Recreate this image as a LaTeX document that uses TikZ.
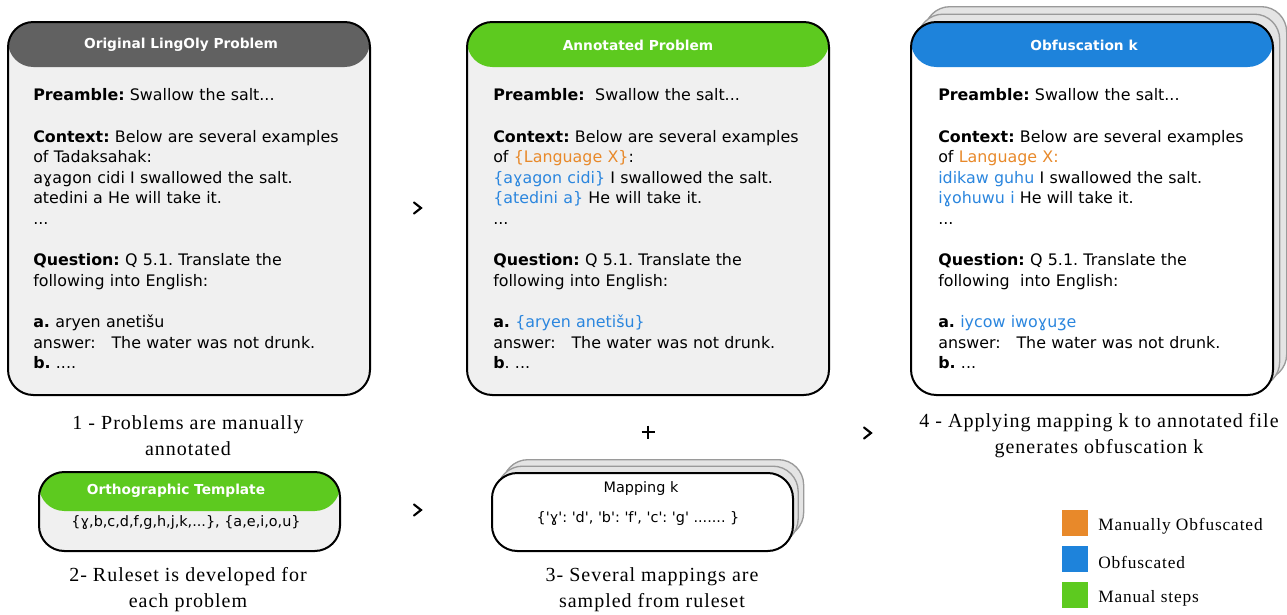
\documentclass[tikz,border=0pt]{standalone}
\usepackage{fontspec}
\setmainfont{Liberation Serif}[LetterSpace=5]
\setsansfont{DejaVu Sans}
\frenchspacing
\definecolor{hgray}{HTML}{616161}
\definecolor{hgreen}{HTML}{5DCA1F}
\definecolor{hblue}{HTML}{1E83DB}
\definecolor{bodygray}{HTML}{F0F0F0}
\definecolor{torange}{HTML}{E8892A}
\definecolor{tblue}{HTML}{2B86DE}
\definecolor{shadowfill}{HTML}{E4E4E4}
\definecolor{shadowdraw}{HTML}{9A9A9A}
\newcommand{\sq}{\textquotesingle}
\begin{document}
\begin{tikzpicture}[x=0.75pt,y=-0.75pt,
  card/.style n args={4}{rectangle, rounded corners=19pt, draw=black, line width=1.5pt,
    fill=#2, minimum width=#3*0.75pt, minimum height=#4*0.75pt, inner sep=0pt, anchor=north west,
    path picture={\fill[#1] (path picture bounding box.north west) rectangle ([yshift=-33.75pt]path picture bounding box.north east);}},
  smallcard/.style n args={2}{rectangle, rounded corners=19pt, draw=black, line width=1.5pt,
    fill=#2, minimum width=225.75pt, minimum height=59.25pt, inner sep=0pt, anchor=north west,
    path picture={\fill[#1] (path picture bounding box.north west) rectangle ([yshift=-29.25pt]path picture bounding box.north east);}},
  shadowcard/.style n args={2}{rectangle, rounded corners=19pt, draw=shadowdraw, line width=1pt,
    fill=shadowfill, minimum width=#1*0.75pt, minimum height=#2*0.75pt, inner sep=0pt, anchor=north west},
  headtext/.style={text=white, font=\sffamily\bfseries\fontsize{10.3}{13}\selectfont, inner sep=0pt},
  bodytext/.style={anchor=north west, align=left, inner sep=0pt, text width=262pt,
    font=\sffamily\fontsize{11.9}{15.45}\selectfont},
  midtext/.style={inner sep=0pt, font=\sffamily\fontsize{10.8}{13}\selectfont},
  caption/.style={align=center, inner sep=0pt, font=\rmfamily\fontsize{15}{19.5}\selectfont},
  legbox/.style={minimum size=19.5pt, inner sep=0pt},
  legtext/.style={anchor=west, inner sep=0pt, font=\rmfamily\fontsize{13}{14}\selectfont},
  chev/.style={line width=1.6pt, line cap=round, line join=miter}
]
\useasboundingbox (0,0) rectangle (1287,614);

% ---- Box 1
\node[card={hgray}{bodygray}{362}{373}] (box1) at (7,21) {};
\node[headtext] (h1) at (181,45) {Original LingOly Problem};
\node[bodytext] (b1) at (33,88.5) {\textbf{Preamble:} Swallow the salt...\\\mbox{}\\
\textbf{Context:} Below are several examples\\of Tadaksahak:\\aɣagon cidi I swallowed the salt.\\atedini a He will take it.\\...\\\mbox{}\\
\textbf{Question:} Q 5.1. Translate the\\following into English:\\\mbox{}\\
\textbf{a.} aryen anetišu\\answer:\ \ \ The water was not drunk.\\\textbf{b.} ....};

% ---- Box 2
\node[card={hgreen}{bodygray}{362}{373}] (box2) at (466,21) {};
\node[headtext] (h2) at (638,45) {Annotated Problem};
\node[bodytext] (b2) at (493,88.5) {\textbf{Preamble:}\ \ Swallow the salt...\\\mbox{}\\
\textbf{Context:} Below are several examples\\of \textcolor{torange}{\{Language X\}}:\\\textcolor{tblue}{\{aɣagon cidi\}} I swallowed the salt.\\\textcolor{tblue}{\{atedini a\}} He will take it.\\...\\\mbox{}\\
\textbf{Question:} Q 5.1. Translate the\\following into English:\\\mbox{}\\
\textbf{a.} \textcolor{tblue}{\{aryen anetišu\}}\\answer:\ \ \ The water was not drunk.\\\textbf{b}. ...};

% ---- Box 3 with stack
\node[shadowcard={362}{373}] (s3b) at (924,6) {};
\node[shadowcard={362}{373}] (s3a) at (917,13.5) {};
\node[card={hblue}{white}{362}{373}] (box3) at (910,21) {};
\node[headtext] (h3) at (1084,45) {Obfuscation k};
\node[bodytext] (b3) at (938,88.5) {\textbf{Preamble:} Swallow the salt...\\\mbox{}\\
\textbf{Context:} Below are several examples\\of \textcolor{torange}{Language X:}\\\textcolor{tblue}{idikaw guhu} I swallowed the salt.\\\textcolor{tblue}{iɣohuwu i} He will take it.\\...\\\mbox{}\\
\textbf{Question:} Q 5.1. Translate the\\following\ \ into English:\\\mbox{}\\
\textbf{a.} \textcolor{tblue}{iycow iwoɣuʒe}\\answer:\ \ \ The water was not drunk.\\\textbf{b.} ...};

% ---- Captions
\node[caption] (c1) at (188,436) {1 - Problems are manually\\annotated};
\node[caption] (c4) at (1099,436) {4 - Applying mapping k to annotated file\\generates obfuscation k};
\node[caption] (c2) at (188,590) {2- Ruleset is developed for\\each problem};
\node[caption] (c3) at (652,590) {3- Several mappings are\\sampled from ruleset};

% ---- Template box
\node[smallcard={hgreen}{bodygray}] (tmpl) at (38,471) {};
\node[headtext] (th) at (176,490.5) {Orthographic Template};
\node[midtext] (tb) at (186,523) {\{ɣ,b,c,d,f,g,h,j,k,...\}, \{a,e,i,o,u\}};

% ---- Mapping box
\node[shadowcard={301}{78}] (m2) at (502,459) {};
\node[shadowcard={301}{78}] (m1) at (496.5,465.5) {};
\node[rectangle, rounded corners=19pt, draw=black, line width=1.5pt, fill=white,
  minimum width=225.75pt, minimum height=58.5pt, inner sep=0pt, anchor=north west] (map) at (491,472) {};
\node[midtext] (mt) at (641,489) {Mapping k};
\node[midtext] (mb) at (638,519) {\{\sq ɣ\sq: \sq d\sq, \sq b\sq: \sq f\sq, \sq c\sq: \sq g\sq\ ....... \}};

% ---- Chevrons and plus
\coordinate (ch1) at (418,208);
\coordinate (ch2) at (418,510);
\coordinate (ch3) at (868,433);
\foreach \c in {ch1,ch2,ch3}{
  \draw[chev] ([shift={(-4,-5.5)}]\c) -- ([shift={(3,0)}]\c) -- ([shift={(-4,5.5)}]\c);
}
\coordinate (plus) at (648,432);
\draw[line width=2pt] ([shift={(-6.5,0)}]plus) -- ([shift={(6.5,0)}]plus);
\draw[line width=2pt] ([shift={(0,-6.5)}]plus) -- ([shift={(0,6.5)}]plus);

% ---- Legend
\node[legbox, fill=torange] (l1) at (1075,522.5) {};
\node[legbox, fill=hblue] (l2) at (1075,558.5) {};
\node[legbox, fill=hgreen] (l3) at (1075,594.5) {};
\node[legtext] (lt1) at (1098,526) {Manually Obfuscated};
\node[legtext] (lt2) at (1098,562) {Obfuscated};
\node[legtext] (lt3) at (1098,598) {Manual steps};
\end{tikzpicture}
\end{document}
